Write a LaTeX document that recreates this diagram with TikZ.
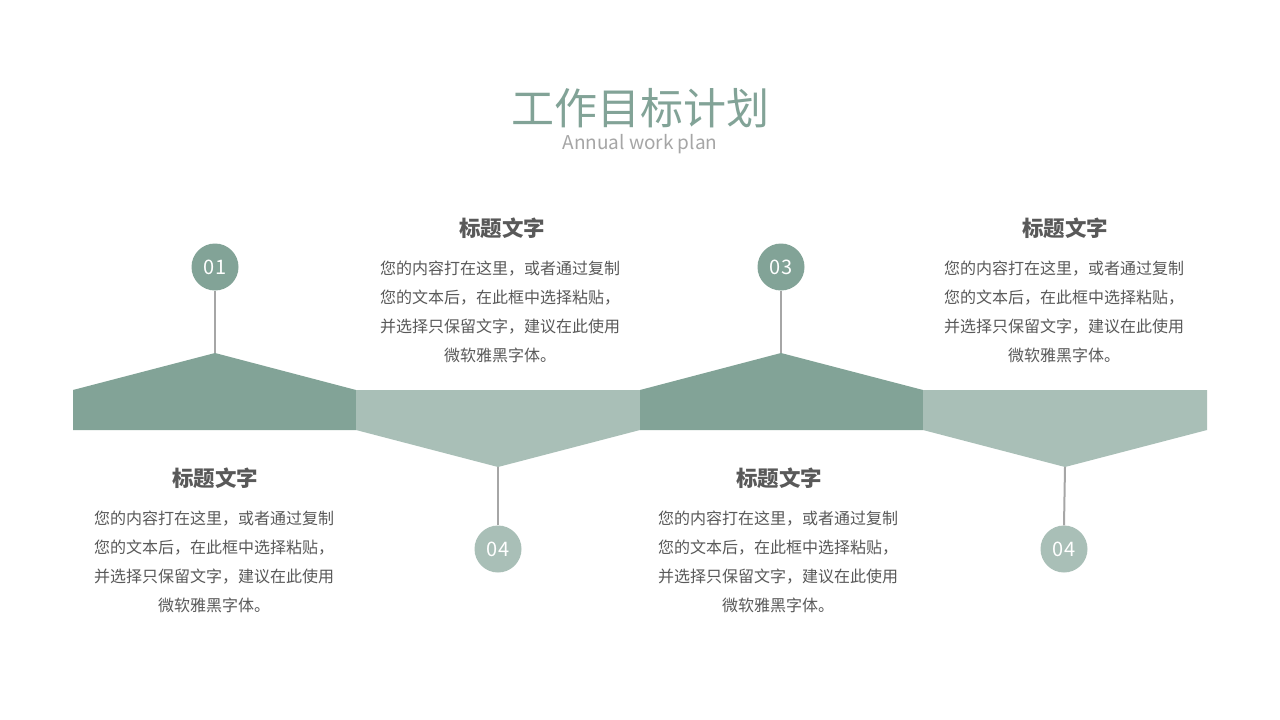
\documentclass[tikz,border=0pt]{standalone}
\usepackage{fontspec}
\setmainfont{Noto Sans CJK SC}
\definecolor{darkg}{HTML}{82A397}
\definecolor{lightg}{HTML}{A9BFB7}
\definecolor{stem}{HTML}{A6A6A6}
\definecolor{txt}{HTML}{595959}
\definecolor{subg}{HTML}{A6A6A6}
\tikzset{
  numdot/.style={circle, minimum size=47pt, inner sep=0pt, text=white, font=\fontsize{20}{20}\selectfont},
  stemline/.style={draw=stem, line width=2pt},
  headtxt/.style={text=txt, font=\fontsize{21.5}{21.5}\selectfont\bfseries, inner sep=0pt},
  bodytxt/.style={text=txt, font=\fontsize{16}{29}\selectfont, align=center, inner sep=0pt}
}
\begin{document}
\begin{tikzpicture}[x=1pt,y=-1pt]
\useasboundingbox[fill=white] (0,0) rectangle (1280,720);
% title
\node[text=darkg, font=\fontsize{43}{43}\selectfont, inner sep=0pt] (title) at (640,108) {工作目标计划};
\node[text=subg, font=\fontsize{19}{19}\selectfont, inner sep=0pt] (subtitle) at (640,144) {Annual work plan};
% band shapes
\fill[darkg] (73,390) -- (215,353) -- (356,390) -- (356,430) -- (73,430) -- cycle;
\fill[lightg] (356,390) -- (640,390) -- (640,430) -- (498,467) -- (356,430) -- cycle;
\fill[darkg] (640,390) -- (781,353) -- (923,390) -- (923,430) -- (640,430) -- cycle;
\fill[lightg] (923,390) -- (1207,390) -- (1207,430) -- (1065,467) -- (923,430) -- cycle;
\coordinate (p1) at (215,353);
\coordinate (p2) at (498,467);
\coordinate (p3) at (781,353);
\coordinate (p4) at (1065,467);
% circles
\node[numdot, fill=darkg] (c1) at (215,267) {01};
\node[numdot, fill=lightg] (c2) at (498,549) {04};
\node[numdot, fill=darkg] (c3) at (781,267) {03};
\node[numdot, fill=lightg] (c4) at (1064,549) {04};
\draw[stemline] (c1.south) -- (p1);
\draw[stemline] (c2.north) -- (p2);
\draw[stemline] (c3.south) -- (p3);
\draw[stemline] (c4.north) -- (p4);
% text blocks
\node[headtxt] (h2) at (502,228) {标题文字};
\node[bodytxt] (b2) at (500,311.5) {您的内容打在这里，或者通过复制\\您的文本后，在此框中选择粘贴，\\并选择只保留文字，建议在此使用\\微软雅黑字体。};
\node[headtxt] (h4) at (1065,228) {标题文字};
\node[bodytxt] (b4) at (1064,311.5) {您的内容打在这里，或者通过复制\\您的文本后，在此框中选择粘贴，\\并选择只保留文字，建议在此使用\\微软雅黑字体。};
\node[headtxt] (h1) at (215,478) {标题文字};
\node[bodytxt] (b1) at (214,561.5) {您的内容打在这里，或者通过复制\\您的文本后，在此框中选择粘贴，\\并选择只保留文字，建议在此使用\\微软雅黑字体。};
\node[headtxt] (h3) at (779,478) {标题文字};
\node[bodytxt] (b3) at (778,561.5) {您的内容打在这里，或者通过复制\\您的文本后，在此框中选择粘贴，\\并选择只保留文字，建议在此使用\\微软雅黑字体。};
\end{tikzpicture}
\end{document}
